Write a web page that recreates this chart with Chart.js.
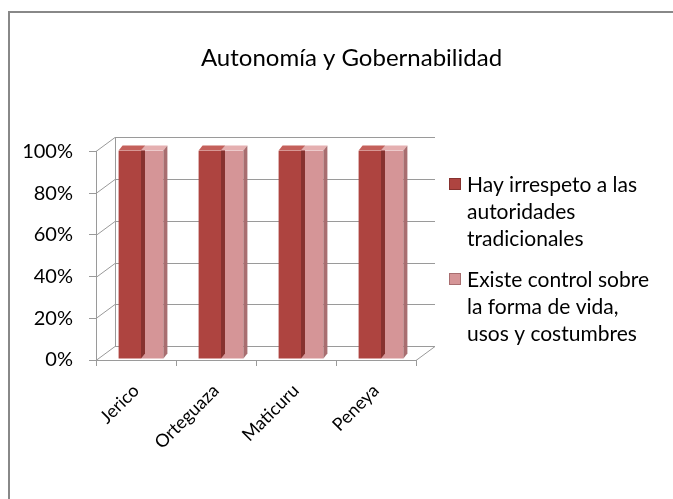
<!DOCTYPE html>
<html>
<head>
<meta charset="utf-8">
<script src="https://cdn.jsdelivr.net/npm/chart.js@4"></script>
<style>
html,body{margin:0;padding:0;background:#fff;}
#wrap{width:673px;height:499px;position:relative;}
</style>
</head>
<body>
<div id="wrap"><canvas id="c" width="673" height="499"></canvas></div>
<script>
const titleText = "Autonomía y Gobernabilidad";
const categories = ["Jerico", "Orteguaza", "Maticuru", "Peneya"];
const seriesNames = ["Hay irrespeto a las autoridades tradicionales", "Existe control sobre la forma de vida, usos y costumbres"];
const legendLines = [["Hay irrespeto a las", "autoridades", "tradicionales"], ["Existe control sobre", "la forma de vida,", "usos y costumbres"]];
const irrespeto = [100, 100, 100, 100];
const control = [100, 100, 100, 100];
const yTicks = [0, 20, 40, 60, 80, 100];

const FONT = "Lato, 'Open Sans', sans-serif";
const frontCols = ["#AE4440", "#D59597"];
const topCols = ["#C4605B", "#E5B0B1"];
const sideCols = ["#86322F", "#A86E70"];
const DX = 19, DY = 14;

const frame = {
  id: 'frame',
  beforeDraw(chart) {
    const ctx = chart.ctx;
    ctx.save();
    ctx.fillStyle = '#fff';
    ctx.fillRect(0, 0, chart.width, chart.height);
    ctx.fillStyle = '#888';
    ctx.fillRect(8, 11, chart.width - 8, 2);
    ctx.fillRect(8, 11, 2, chart.height - 11);
    ctx.restore();
  }
};

const walls = {
  id: 'walls',
  beforeDatasetsDraw(chart) {
    const ctx = chart.ctx, a = chart.chartArea, ys = chart.scales.y;
    ctx.save();
    ctx.strokeStyle = '#9a9a9a';
    ctx.lineWidth = 1;
    ctx.beginPath();
    yTicks.forEach(v => {
      const y = Math.round(ys.getPixelForValue(v)) + 0.5;
      ctx.moveTo(a.left, y);
      ctx.lineTo(a.left + DX, y - DY);
      ctx.lineTo(a.right + DX, y - DY);
    });
    const yt = Math.round(ys.getPixelForValue(100)) + 0.5;
    const yb = Math.round(ys.getPixelForValue(0)) + 0.5;
    ctx.moveTo(a.left + DX + 0.5, yt - DY);
    ctx.lineTo(a.left + DX + 0.5, yb - DY);
    ctx.moveTo(a.right, yb);
    ctx.lineTo(a.right + DX, yb - DY);
    ctx.stroke();
    ctx.restore();
  },
  afterDatasetsDraw(chart) {
    const ctx = chart.ctx;
    ctx.save();
    chart.data.datasets.forEach((ds, i) => {
      const meta = chart.getDatasetMeta(i);
      meta.data.forEach(bar => {
        const p = bar.getProps(['x', 'y', 'base', 'width'], true);
        const l = p.x - p.width / 2, r = p.x + p.width / 2;
        const d = 4, e = 5;
        ctx.fillStyle = topCols[i];
        ctx.beginPath();
        ctx.moveTo(l, p.y);
        ctx.lineTo(l + d, p.y - e);
        ctx.lineTo(r + d, p.y - e);
        ctx.lineTo(r, p.y);
        ctx.closePath();
        ctx.fill();
        ctx.fillStyle = sideCols[i];
        ctx.beginPath();
        ctx.moveTo(r, p.y);
        ctx.lineTo(r + d, p.y - e);
        ctx.lineTo(r + d, p.base - e);
        ctx.lineTo(r, p.base);
        ctx.closePath();
        ctx.fill();
      });
    });
    ctx.restore();
  }
};

// bars sit mid-depth in the 3D box: shift the dataset layer slightly back
const depthShift = {
  id: 'depthShift',
  beforeDatasetsDraw(chart) { chart.ctx.save(); chart.ctx.translate(5, -1); },
  afterDatasetsDraw(chart) { chart.ctx.restore(); }
};

const legendPlugin = {
  id: 'legendLines',
  afterDraw(chart) {
    const ctx = chart.ctx;
    ctx.save();
    ctx.font = "21px " + FONT;
    ctx.textBaseline = 'alphabetic';
    chart.data.datasets.forEach((ds, i) => {
      const top = 178 + i * 95;
      ctx.fillStyle = ds.backgroundColor;
      ctx.fillRect(449, top, 12, 12);
      ctx.strokeStyle = sideCols[i];
      ctx.lineWidth = 1;
      ctx.strokeRect(449.5, top + 0.5, 11, 11);
      ctx.fillStyle = '#000';
      legendLines[i].forEach((line, k) => {
        ctx.fillText(line, 467, 192 + i * 95 + k * 27);
      });
    });
    ctx.restore();
  }
};

new Chart(document.getElementById('c'), {
  type: 'bar',
  data: {
    labels: categories,
    datasets: [
      { label: seriesNames[0], data: irrespeto, backgroundColor: frontCols[0], yAxisID: 'y' },
      { label: seriesNames[1], data: control, backgroundColor: frontCols[1], yAxisID: 'y' }
    ]
  },
  options: {
    responsive: false,
    animation: false,
    devicePixelRatio: 1,
    layout: { padding: { left: 16, right: -14, top: 0, bottom: 0 } },
    datasets: { bar: { categoryPercentage: 0.56, barPercentage: 1.0 } },
    plugins: {
      legend: { display: false },
      tooltip: { enabled: false },
      title: {
        display: true,
        text: titleText,
        color: '#000',
        font: { family: FONT, size: 24, weight: 'normal' },
        padding: { top: 44, bottom: 78.6 }
      }
    },
    scales: {
      x: {
        afterFit(s) { s.height = 139; },
        grid: { display: true, drawOnChartArea: false, offset: true, tickLength: 6, color: '#9a9a9a' },
        border: { display: true, color: '#9a9a9a' },
        ticks: { color: '#000', font: { family: FONT, size: 18 }, minRotation: 45, maxRotation: 45, padding: 14, autoSkip: false }
      },
      y: {
        min: 0, max: 100,
        afterFit(s) { s.width = 80; },
        afterBuildTicks(s) { s.ticks = yTicks.map(v => ({ value: v })); },
        grid: { display: true, drawOnChartArea: false, tickLength: 7, color: '#9a9a9a' },
        border: { display: true, color: '#9a9a9a' },
        ticks: { color: '#000', font: { family: FONT, size: 20 }, padding: 16, callback: v => v + '%' }
      },
      yRight: {
        position: 'right',
        display: true,
        afterFit(s) { s.width = 271; },
        grid: { display: false, drawOnChartArea: false },
        border: { display: false },
        ticks: { display: false }
      }
    }
  },
  plugins: [frame, walls, depthShift, legendPlugin]
});
</script>
</body>
</html>
